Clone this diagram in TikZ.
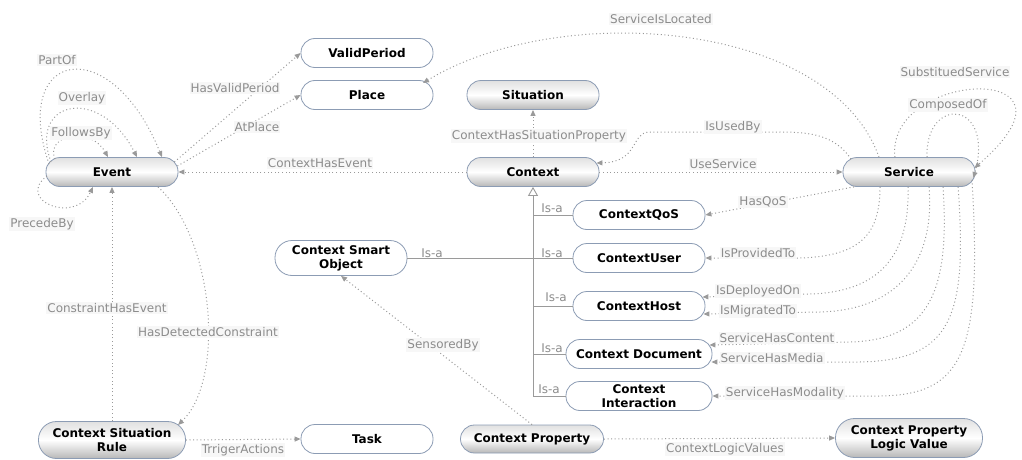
\documentclass[tikz,border=0pt]{standalone}
\usepackage{fontspec}
\setmainfont{DejaVu Sans}
\usetikzlibrary{arrows.meta}
\definecolor{clsline}{HTML}{8C9CB4}
\definecolor{relgray}{HTML}{9A9A9A}
\begin{document}
\begin{tikzpicture}[x=1pt,y=-1pt,
 cls/.style={rectangle,rounded corners=14pt,draw=clsline,line width=.8pt,fill=white,minimum width=132pt,minimum height=29pt,inner sep=1pt,align=center,font=\fontsize{12}{14}\selectfont\bfseries},
 core/.style={cls,top color=black!12,bottom color=black!28,middle color=white},
 rel/.style={draw=relgray,line width=1pt,dash pattern=on 1pt off 2.6pt,-{Triangle[length=6pt,width=5pt]}},
 isa/.style={draw=relgray,line width=.9pt},
 lbl/.style={fill=black!3,inner sep=1pt,text=black!45,font=\fontsize{12}{14}\selectfont}]
\useasboundingbox (0,0) rectangle (1022,460);
\path (112,172) node[core] (Event) {Event}
 (367,53) node[cls] (ValidPeriod) {ValidPeriod} ++(0,42) node[cls] (Place) {Place}
 (533,95) node[core] (Situation) {Situation} ++(0,77) node[core] (Context) {Context}
 (909,172) node[core] (Service) {Service}
 (639,215) node[cls] (QoS) {ContextQoS} ++(0,43) node[cls] (User) {ContextUser}
 ++(0,48) node[cls] (Host) {ContextHost}
 ++(0,48) node[cls,minimum width=146pt] (Document) {Context Document}
 ++(0,42) node[cls,minimum width=146pt] (Interaction) {Context\\Interaction}
 (341,258) node[cls,minimum height=35pt,rounded corners=17pt] (Smart) {Context Smart\\Object}
 (112,440) node[core,minimum width=147pt,minimum height=37pt,rounded corners=18pt] (Rule) {Context Situation\\Rule}
 (367,439) node[cls] (Task) {Task}
 (532,439) node[core,minimum width=143pt,minimum height=28pt] (Property) {Context Property}
 (909,438) node[core,minimum width=147pt,minimum height=39pt,rounded corners=19pt] (Logic) {Context Property\\Logic Value};
% is-a tree
\draw[isa,-{Triangle[open,length=9pt,width=10pt]}] (Context.south |- Interaction.west) -- (Context.south);
\foreach \n in {QoS,User,Host,Document,Interaction} \draw[isa] (Context.south |- \n.west) -- (\n.west);
\draw[isa] (Smart.east) -- (Context.south |- Smart.east);
% plain relations
\foreach \a/\b in {Context.west/Event.east, Context.north/Situation.south, Context.east/Service.west, Rule.north/Event.south, Rule.east/Task.west, Property.north/Smart.south, Property.east/Logic.west}
 \draw[rel] (\a) -- (\b);
% event loops
\draw[rel] ([shift={(-63,-8)}]Event.center) .. controls (10,50) and (110,30) .. ([shift={(50,0)}]Event.north);
\draw[rel] ([shift={(-61,-10)}]Event.center) .. controls (28,100) and (100,85) .. ([shift={(25,0)}]Event.north);
\draw[rel] ([shift={(-57,-13)}]Event.center) .. controls (45,135) and (90,125) .. ([shift={(-4,0)}]Event.north);
\draw[rel] ([shift={(-65,4)}]Event.center) .. controls (15,200) and (75,225) .. ([shift={(-19,0)}]Event.south);
\draw[rel] ([shift={(-4,-10)}]Event.east) -- (ValidPeriod.west);
\draw[rel] ([shift={(-1,-6)}]Event.east) -- (Place.west);
\draw[rel] ([shift={(46,0)}]Event.south) .. controls (215,240) and (225,380) .. ([shift={(66,-15)}]Rule.center);
% service relations
\draw[rel] ([shift={(-30,0)}]Service.north) .. controls (830,20) and (560,0) .. ([shift={(56,-12)}]Place.center);
\draw[rel] ([shift={(-58,2)}]Service.north) .. controls (835,135) and (810,132) .. (780,132) -- (650,132) .. controls (630,132) and (640,162) .. ([shift={(-3,-9)}]Context.east);
\draw[rel] ([shift={(-14,0)}]Service.north) .. controls (885,70) and (1100,60) .. ([shift={(-1,-4)}]Service.east);
\draw[rel] ([shift={(18,0)}]Service.north) .. controls (925,95) and (995,100) .. ([shift={(-2,6)}]Service.east);
\draw[rel] ([shift={(-55,0)}]Service.south) -- (QoS.east);
\draw[rel] ([shift={(-29,0)}]Service.south) .. controls (880,235) and (860,256) .. (800,258) -- (User.east);
\draw[rel] ([shift={(-1,0)}]Service.south) .. controls (910,255) and (880,292) .. (810,294) -- ([shift={(-3,-9)}]Host.east);
\draw[rel] ([shift={(20,0)}]Service.south) .. controls (935,260) and (900,310) .. (820,312) -- ([shift={(-2,8)}]Host.east);
\draw[rel] ([shift={(34,0)}]Service.south) .. controls (950,290) and (930,340) .. (850,342) -- ([shift={(-3,-9)}]Document.east);
\draw[rel] ([shift={(49,0)}]Service.south) .. controls (968,320) and (950,360) .. (860,362) -- ([shift={(-1,8)}]Document.east);
\draw[rel] ([shift={(63,-7)}]Service.south) .. controls (982,350) and (965,395) .. (880,396) -- (Interaction.east);
% labels
\foreach \t/\p in {PartOf/{57,60}, Overlay/{82,98}, FollowsBy/{81,133}, PrecedeBy/{42,224}, HasValidPeriod/{235,88}, AtPlace/{257,127}, ContextHasEvent/{320,163}, ServiceIsLocated/{661,19}, ContextHasSituationProperty/{539,136}, IsUsedBy/{733,127}, UseService/{723,164}, SubstituedService/{955,72}, ComposedOf/{948,105}, HasQoS/{763,202}, IsProvidedTo/{758,253}, IsDeployedOn/{758,291}, IsMigratedTo/{758,311}, ServiceHasContent/{777,338}, ServiceHasMedia/{772,358}, ServiceHasModality/{785,393}, ConstraintHasEvent/{107,308}, HasDetectedConstraint/{208,332}, TrrigerActions/{243,450}, SensoredBy/{443,345}, ContextLogicValues/{725,449}}
 \node[lbl] (l-\t) at (\p) {\t};
\foreach \p [count=\i] in {{552,208},{552,253},{556,297},{552,348},{549,389},{432,253}}
 \node[lbl,fill=none] (isa\i) at (\p) {Is-a};
\end{tikzpicture}
\end{document}
